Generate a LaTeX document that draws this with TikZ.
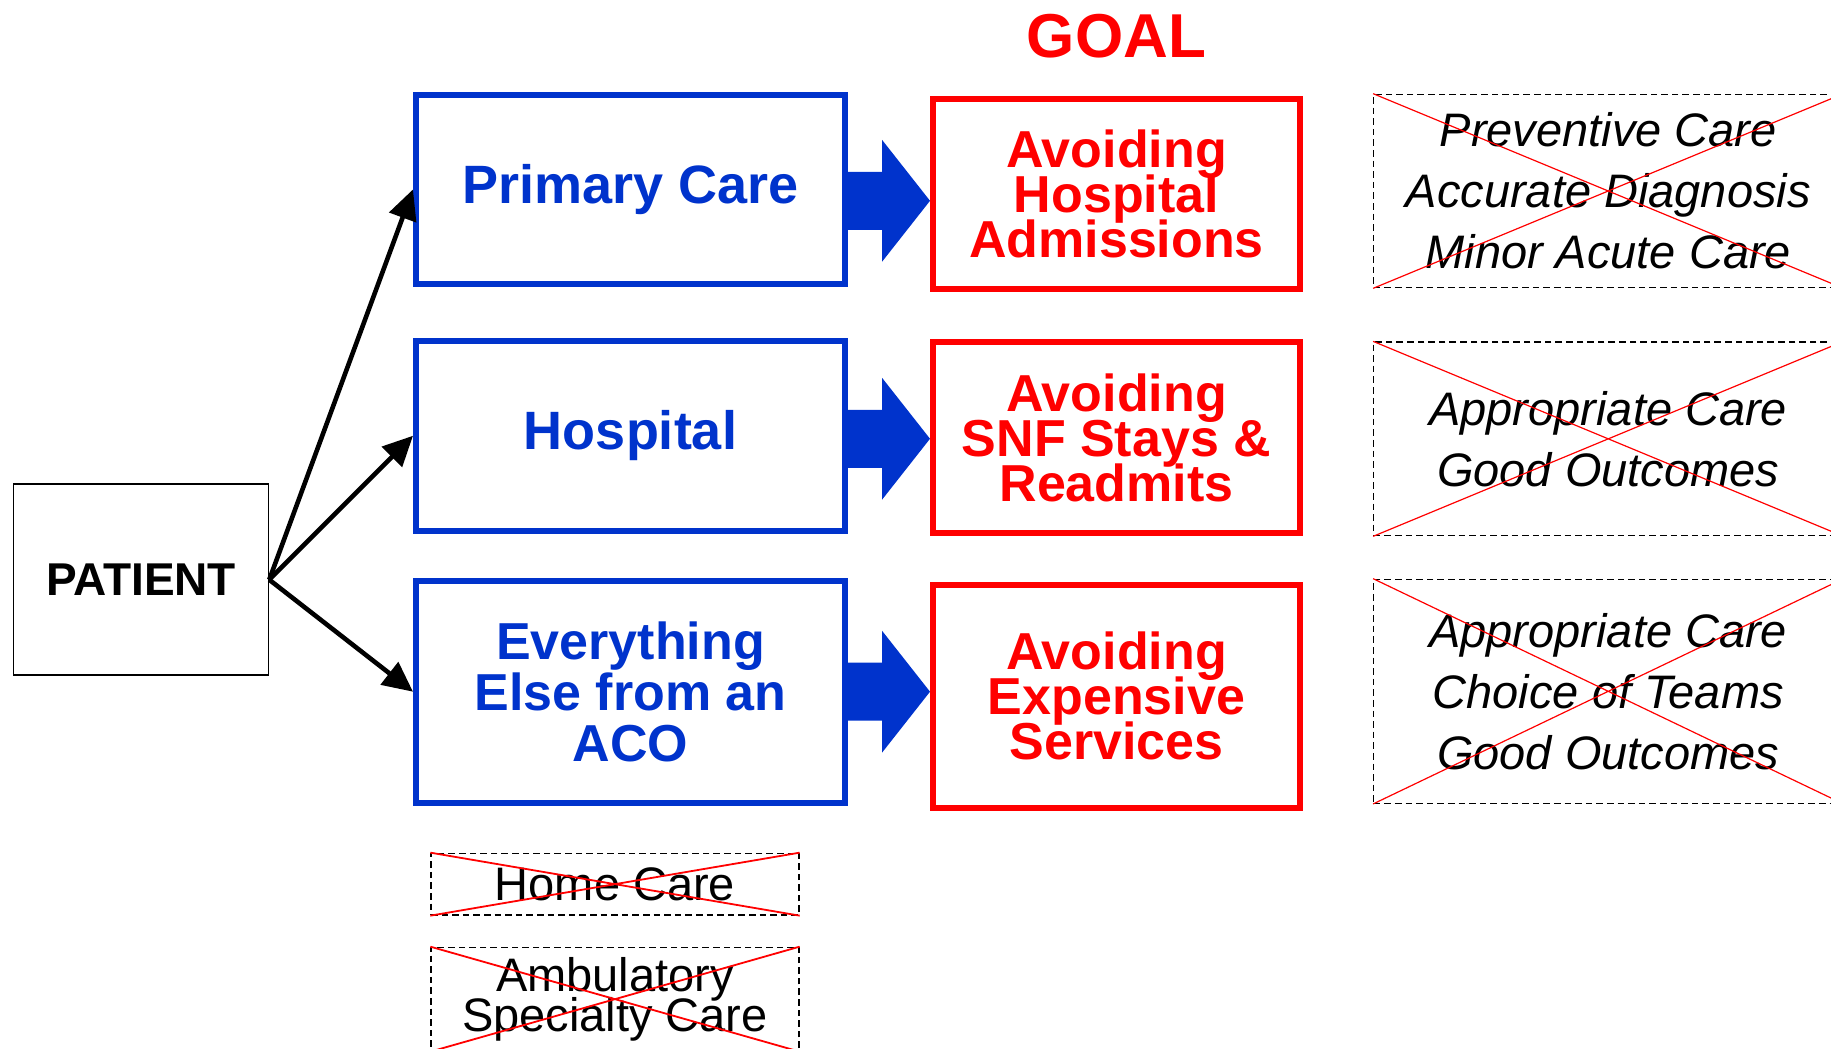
\documentclass[tikz,border=0pt]{standalone}
\usepackage{fontspec}
\setmainfont{Liberation Sans}
\usepackage{tikz}
\usetikzlibrary{arrows.meta,calc}
\definecolor{cblue}{HTML}{0033CC}
\definecolor{cred}{HTML}{FF0000}
\tikzset{
  >={Triangle[length=15pt,width=14pt]},
  cpat/.style={draw=black, line width=0.75pt, minimum width=127.5pt,
               minimum height=95.5pt, inner sep=0pt,
               font=\fontsize{23}{23}\selectfont\bfseries},
  ccare/.style={draw=cblue, line width=3pt, minimum width=214.5pt, inner sep=0pt,
                text=cblue, align=center, font=\fontsize{27}{27}\selectfont\bfseries},
  cgoal/.style={draw=cred, line width=3pt, minimum width=183.5pt, inner sep=0pt,
                text=cred, align=center,
                font={\fontsize{26}{22.5}\selectfont\bfseries\lineskiplimit=-50pt}},
  cnote/.style={draw=black, line width=0.65pt, dash pattern=on 3.3pt off 2pt,
                minimum width=234.5pt, inner sep=0pt, align=center,
                font=\fontsize{23.5}{30.5}\selectfont\itshape},
  cextra/.style={draw=black, line width=0.65pt, dash pattern=on 3.3pt off 2pt,
                 minimum width=184pt, inner sep=0pt, align=center,
                 font={\fontsize{23.5}{20.3}\selectfont\lineskiplimit=-50pt}},
  cx/.style={cred, line width=0.6pt},
  clink/.style={->, line width=2.3pt},
  cflow/.style={fill=cblue},
}

\begin{document}
\begin{tikzpicture}[x=0.5pt, y=-0.5pt]
  \useasboundingbox (0,0) rectangle (1831,1049);
  \clip (0,0) rectangle (1831,1049);

  % title
  \node[text=cred, font=\fontsize{31}{31}\selectfont\bfseries, anchor=base] (goal) at (1116.5,57) {GOAL};

  % patient
  \node[cpat] (pat) at (141,579.7) {PATIENT};

  % care settings
  \node[ccare, minimum height=94.4pt] (prim) at (630.5,189.4) {Primary Care};
  \node[ccare, minimum height=95.25pt] (hosp) at (630.5,435.75) {Hospital};
  \node[ccare, minimum height=111pt, font={\fontsize{26}{25.5}\selectfont\bfseries\lineskiplimit=-50pt}]
    (rest) at (630.5,691.7) {Everything\\Else from an\\ACO};

  % goals
  \node[cgoal, minimum height=95.15pt] (ahosp) at (1116.5,193.85) {Avoiding\\Hospital\\Admissions};
  \node[cgoal, minimum height=95.7pt] (asnf) at (1116.5,437.7) {Avoiding\\SNF Stays \&\\Readmits};
  \node[cgoal, minimum height=111.5pt] (aexp) at (1116.5,696.2) {Avoiding\\Expensive\\Services};

  % crossed-out notes
  \node[cnote, minimum height=96.7pt] (nprim) at (1608.25,191) {Preventive Care\\Accurate Diagnosis\\Minor Acute Care};
  \node[cnote, minimum height=96.85pt] (nhosp) at (1608.25,438.85) {Appropriate Care\\Good Outcomes};
  \node[cnote, minimum height=112pt] (nrest) at (1608.25,691.3) {Appropriate Care\\Choice of Teams\\Good Outcomes};
  \node[cextra, minimum height=30.85pt] (home) at (615,884.15) {Home Care};
  \node[cextra, minimum height=51.85pt] (amb) at (615,999.15) {Ambulatory\\Specialty Care};

  \draw[cx] (nprim.north west) -- (nprim.south east) (nprim.south west) -- (nprim.north east);
  \draw[cx] (nhosp.north west) -- (nhosp.south east) (nhosp.south west) -- (nhosp.north east);
  \draw[cx] (nrest.north west) -- (nrest.south east) (nrest.south west) -- (nrest.north east);
  \draw[cx, line width=0.9pt] (home.north west) -- (home.south east) (home.south west) -- (home.north east);
  \draw[cx, line width=0.9pt] (amb.north west) -- (amb.south east) (amb.south west) -- (amb.north east);

  % patient arrows
  \draw[clink] (pat.east) -- (prim.west);
  \draw[clink] (pat.east) -- (hosp.west);
  \draw[clink] (pat.east) -- (rest.west);

  % block arrows
  \fill[cflow] ($(prim.east)+(-3,-17.6)$) -- ++(37,0) -- ++(0,-32)
    -- ($(ahosp.west |- prim.east)+(0,11.4)$) -- ($(prim.east)+(34,72.4)$)
    -- ++(0,-32) -- ($(prim.east)+(-3,40.4)$) -- cycle;
  \fill[cflow] ($(hosp.east)+(-3,-26)$) -- ++(37,0) -- ++(0,-32)
    -- ($(asnf.west |- hosp.east)+(0,3)$) -- ($(hosp.east)+(34,64)$)
    -- ++(0,-32) -- ($(hosp.east)+(-3,32)$) -- cycle;
  \fill[cflow] ($(rest.east)+(-3,-29)$) -- ++(37,0) -- ++(0,-32)
    -- ($(aexp.west |- rest.east)$) -- ($(rest.east)+(34,61)$)
    -- ++(0,-32) -- ($(rest.east)+(-3,29)$) -- cycle;

\end{tikzpicture}
\end{document}
